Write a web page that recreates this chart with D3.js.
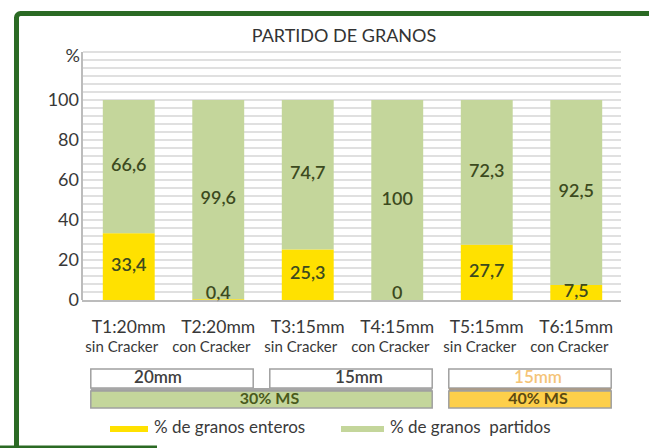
<!DOCTYPE html>
<html>
<head>
<meta charset="utf-8">
<script src="https://cdn.jsdelivr.net/npm/d3@7"></script>
<style>
  body { margin: 0; background: #fff; }
  svg { display: block; font-family: Lato, "Open Sans", sans-serif; }
</style>
</head>
<body>
<script>
// chart values
var categories = ["T1:20mm", "T2:20mm", "T3:15mm", "T4:15mm", "T5:15mm", "T6:15mm"];
var subLabels = ["sin Cracker", "con Cracker", "sin Cracker", "con Cracker", "sin Cracker", "con Cracker"];
var enteros = [33.4, 0.4, 25.3, 0, 27.7, 7.5];
var partidos = [66.6, 99.6, 74.7, 100, 72.3, 92.5];
var yTicks = [0, 20, 40, 60, 80, 100];
var sizeGroups = [["20mm", 0, 1], ["15mm", 2, 3], ["15mm", 4, 5]];
var msGroups = [["30% MS", 0, 3], ["40% MS", 4, 5]];
var legendNames = ["% de granos enteros", "% de granos  partidos"];

var W = 649, H = 448;
var GREEN = "#c4d69b", YELLOW = "#ffe100", ORANGE = "#fdcf4a";

var svg = d3.select("body").append("svg").attr("width", W).attr("height", H);

/* frame */
svg.append("rect").attr("x", 16.5).attr("y", 13.5).attr("width", 700).attr("height", 500).attr("rx", 4)
  .attr("fill", "#fff").attr("stroke", "#2b6a24").attr("stroke-width", 5);
svg.append("line").attr("x1", 0).attr("x2", 157).attr("y1", 447).attr("y2", 447)
  .attr("stroke", "#2b6a24").attr("stroke-width", 3);

var x = d3.scaleBand().domain(categories).range([84, 621]).paddingInner(0.42).paddingOuter(0.21);
var y = d3.scaleLinear().domain([0, 124]).range([300, 52]);

svg.append("defs").append("clipPath").attr("id", "clip")
  .append("rect").attr("x", 0).attr("y", 0).attr("width", 621).attr("height", H);
var g = svg.append("g").attr("clip-path", "url(#clip)");

svg.append("text").attr("x", 344).attr("y", 42).attr("text-anchor", "middle")
  .style("font-size", "18px").attr("fill", "#333").text("PARTIDO DE GRANOS");

/* minor gridlines */
g.selectAll("line.grid").data(d3.range(4, 125, 4)).enter().append("line").classed("grid", true)
  .attr("x1", 83).attr("x2", 621).attr("y1", function(d){ return y(d); }).attr("y2", function(d){ return y(d); })
  .attr("stroke", "#d6d6d6").attr("stroke-width", 1.6);

/* y axis */
var yAxis = d3.axisLeft(y).tickValues(yTicks).tickSize(0).tickPadding(3);
var ya = svg.append("g").attr("transform", "translate(82,0)").call(yAxis);
ya.select(".domain").attr("d", "M0," + y(124) + "V" + y(0)).attr("stroke", "#a6a6a6").attr("stroke-width", 1.5);
ya.selectAll("text").style("font-size", "18px").attr("fill", "#383838").attr("font-family", "Lato, sans-serif");
svg.append("text").attr("x", 80).attr("y", 57).attr("text-anchor", "end").attr("dominant-baseline", "middle")
  .style("font-size", "18px").attr("fill", "#383838").text("%");

/* bars */
var rows = categories.map(function(c, i){ return {cat: c, sub: subLabels[i], e: enteros[i], p: partidos[i]}; });
var bar = g.selectAll("g.bar").data(rows).enter().append("g").classed("bar", true);
bar.append("rect").attr("x", function(d){ return x(d.cat); }).attr("width", x.bandwidth())
  .attr("y", function(d){ return y(d.e); }).attr("height", function(d){ return y(0) - y(d.e); })
  .attr("fill", YELLOW);
bar.append("rect").attr("x", function(d){ return x(d.cat); }).attr("width", x.bandwidth())
  .attr("y", function(d){ return y(d.e + d.p); }).attr("height", function(d){ return y(d.e) - y(d.e + d.p); })
  .attr("fill", GREEN);

function fmt(v){ return v % 1 === 0 ? String(v) : v.toFixed(1).replace(".", ","); }
var cx = function(d){ return x(d.cat) + x.bandwidth() / 2; };
bar.append("text").attr("x", cx).attr("y", function(d){ return y(d.e + d.p / 2); })
  .attr("text-anchor", "middle").attr("dominant-baseline", "middle")
  .style("font-size", "18px").style("font-weight", "600").attr("fill", "#3c4a1e").text(function(d){ return fmt(d.p); });
bar.append("text").attr("x", cx).attr("y", function(d){ return Math.min(y(d.e / 2), y(0) - 6); })
  .attr("text-anchor", "middle").attr("dominant-baseline", "middle")
  .style("font-size", "18px").style("font-weight", "600").attr("fill", "#3c4a1e").text(function(d){ return fmt(d.e); });

/* x axis */
g.append("line").attr("x1", 82).attr("x2", 621).attr("y1", y(0) + 1).attr("y2", y(0) + 1)
  .attr("stroke", "#a6a6a6").attr("stroke-width", 1.5);
bar.append("text").attr("x", cx).attr("y", 333).attr("text-anchor", "middle")
  .style("font-size", "17.5px").attr("fill", "#383838").text(function(d){ return d.cat; });
bar.append("text").attr("x", function(d){ return cx(d) - 7; }).attr("y", 352).attr("text-anchor", "middle")
  .style("font-size", "15px").attr("fill", "#383838").text(function(d){ return d.sub; });

/* group boxes */
function left(i){ return x(categories[i]) - 12; }
function right(i){ return x(categories[i]) + x.bandwidth() + 9; }
var boxes = svg.append("g");
sizeGroups.forEach(function(s, k){
  var last = k === sizeGroups.length - 1;
  var x0 = left(s[1]), x1 = right(s[2]);
  boxes.append("rect").attr("x", x0).attr("y", 369).attr("width", x1 - x0).attr("height", 19)
    .attr("fill", "#fff").attr("stroke", "#a0a0a0").attr("stroke-width", 1.5);
  boxes.append("text").attr("x", (x0 + x1) / 2 + (k === 0 ? -14 : 8)).attr("y", 379).attr("text-anchor", "middle")
    .attr("dominant-baseline", "middle").style("font-size", "17px").style("font-weight", "600")
    .attr("fill", last ? "#f5c477" : "#404040").text(s[0]);
});
msGroups.forEach(function(m, k){
  var last = k === msGroups.length - 1;
  var x0 = left(m[1]), x1 = right(m[2]);
  boxes.append("rect").attr("x", x0).attr("y", 388).attr("width", x1 - x0).attr("height", 3.5)
    .attr("fill", last ? "#a99b8a" : "#a6a6a6");
  boxes.append("rect").attr("x", x0).attr("y", 391).attr("width", x1 - x0).attr("height", 17)
    .attr("fill", last ? ORANGE : GREEN).attr("stroke", "#a0a0a0").attr("stroke-width", 1.5);
  boxes.append("text").attr("x", (x0 + x1) / 2 + 8).attr("y", 400).attr("text-anchor", "middle")
    .attr("dominant-baseline", "middle").style("font-size", "16px").style("font-weight", "bold")
    .attr("fill", last ? "#5b4a12" : "#4a5a1c").text(m[0]);
});

/* legend */
var legend = svg.append("g");
var legX = [110, 341], swW = [38, 43];
legendNames.forEach(function(name, i){
  legend.append("rect").attr("x", legX[i]).attr("y", 426).attr("width", swW[i]).attr("height", 6)
    .attr("fill", i === 0 ? YELLOW : GREEN);
  legend.append("text").attr("x", legX[i] + swW[i] + 6).attr("y", 429).attr("dominant-baseline", "middle")
    .style("font-size", "17px").attr("fill", "#3a3a3a").attr("xml:space", "preserve").text(name);
});
</script>
</body>
</html>
